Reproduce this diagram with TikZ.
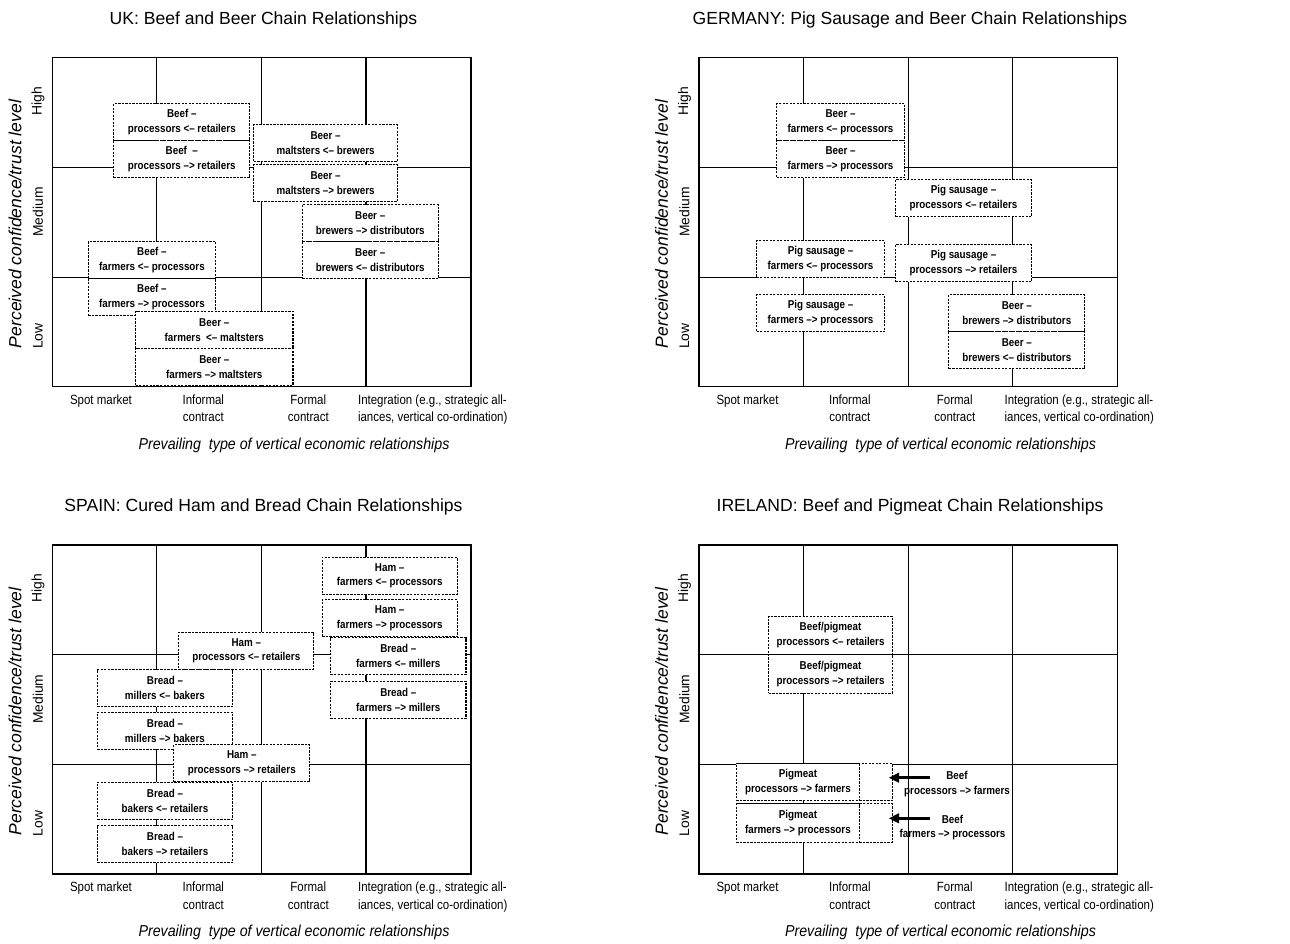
\documentclass[tikz,border=0pt]{standalone}
\usepackage{fontspec}
\setmainfont{Liberation Sans}
\newfontfamily\narrowfont{Liberation Sans}[FakeStretch=0.86]
\newfontfamily\axisfont{Liberation Sans}[FakeStretch=0.9]
\usetikzlibrary{arrows.meta}

\begin{document}
\begin{tikzpicture}[x=0.02cm, y=-0.02cm,
    panelframe/.style = {line width=0.8pt},
    gridline/.style = {line width=0.7pt},
    reltext/.style = {inner sep=0pt, align=center, font=\narrowfont\bfseries\fontsize{6.5}{8.5}\selectfont},
    relbox/.style = {reltext, draw, fill=white, line width=0.6pt, dash pattern=on 1.3pt off 0.7pt, minimum height=0.74cm, anchor=north west},
    ticklab/.style = {inner sep=0pt, anchor=north, align=center, font=\narrowfont\fontsize{7.6}{10.2}\selectfont},
    levellab/.style = {rotate=90, inner sep=0pt, font=\fontsize{7.9}{9}\selectfont},
    axtitle/.style = {inner sep=0pt, font=\axisfont\itshape\fontsize{9}{11}\selectfont},
    ytitle/.style = {inner sep=0pt, rotate=90, font=\itshape\fontsize{10}{12}\selectfont},
    paneltitle/.style = {inner sep=0pt, font=\fontsize{10}{12}\selectfont},
    fatarrow/.style = {-{Triangle[length=6pt,width=5.5pt]}, line width=1.9pt}]
    \useasboundingbox (0,0) rectangle (1290,943);

    % the four panels
    \foreach \dx/\dy/\nm/\ttl in {0/0/uk/{UK: Beef and Beer Chain Relationships},
        646.5/0/ger/{GERMANY: Pig Sausage and Beer Chain Relationships},
        0/487.3/sp/{SPAIN: Cured Ham and Bread Chain Relationships},
        646.5/487.3/ir/{IRELAND: Beef and Pigmeat Chain Relationships}}
    {
    \begin{scope}[shift={(\dx,\dy)}]
        \node[paneltitle] (\nm-title) at (263.5,20) {\ttl};
        \draw[panelframe] (52.3,57.7) rectangle (471,386.7);
        \foreach \cx in {156.7,261.7,366}
            \draw[gridline] (\cx,57.7) -- (\cx,386.7);
        \foreach \ry in {167.3,277.3}
            \draw[gridline] (52.3,\ry) -- (471,\ry);
        \node[ytitle] (\nm-ytitle) at (15,224) {Perceived confidence/trust level};
        \node[levellab] (\nm-high) at (38,101) {High};
        \node[levellab] (\nm-medium) at (38,212) {Medium};
        \node[levellab] (\nm-low) at (38,336) {Low};
        \node[ticklab] (\nm-spot) at (101,394) {Spot market};
        \node[ticklab] (\nm-informal) at (203.3,394) {Informal\\contract};
        \node[ticklab] (\nm-formal) at (308.3,394) {Formal\\contract};
        \node[ticklab, anchor=north west, align=left] (\nm-integ) at (357.7,394) {Integration (e.g., strategic all-\\iances, vertical co-ordination)};
        \node[axtitle] (\nm-xtitle) at (294,445) {Prevailing\ \ type of vertical economic relationships};
    \end{scope}
    }

    % UK
    \node[relbox, minimum width=2.72cm] (ukbeefA) at (113.3,103.3) {Beef –\\processors <– retailers};
    \node[relbox, minimum width=2.72cm] (ukbeefB) at (113.3,140.3) {Beef\ \ –\\processors –> retailers};
    \node[relbox, minimum width=2.87cm] (ukbeerA) at (253.3,124) {Beer –\\maltsters <– brewers};
    \node[relbox, minimum width=2.87cm] (ukbeerB) at (253.3,164.3) {Beer –\\maltsters –> brewers};
    \node[relbox, minimum width=2.72cm] (ukbeerC) at (301.7,204.3) {Beer –\\brewers –> distributors};
    \node[relbox, minimum width=2.72cm] (ukbeerD) at (301.7,241.3) {Beer –\\brewers <– distributors};
    \node[relbox, minimum width=2.55cm] (ukbeefC) at (87.7,241) {Beef –\\farmers <– processors};
    \node[relbox, minimum width=2.55cm] (ukbeefD) at (87.7,278.3) {Beef –\\farmers –> processors};
    \node[relbox, minimum width=3.15cm] (ukbeerE) at (135,310.7) {Beer –\\farmers\ \ <– maltsters};
    \node[relbox, minimum width=3.15cm] (ukbeerF) at (135,347.7) {Beer –\\farmers –> maltsters};

    % Germany
    \node[relbox, minimum width=2.56cm] (gerbeerA) at (776,103.3) {Beer –\\farmers <– processors};
    \node[relbox, minimum width=2.56cm] (gerbeerB) at (776,140.3) {Beer –\\farmers –> processors};
    \node[relbox, minimum width=2.72cm] (gersausA) at (895,179.3) {Pig sausage –\\processors <– retailers};
    \node[relbox, minimum width=2.72cm] (gersausB) at (895,244.3) {Pig sausage –\\processors –> retailers};
    \node[relbox, minimum width=2.56cm] (gersausC) at (756,240) {Pig sausage –\\farmers <– processors};
    \node[relbox, minimum width=2.56cm] (gersausD) at (756,294.3) {Pig sausage –\\farmers –> processors};
    \node[relbox, minimum width=2.72cm] (gerbeerC) at (948.3,294.3) {Beer –\\brewers –> distributors};
    \node[relbox, minimum width=2.72cm] (gerbeerD) at (948.3,331.3) {Beer –\\brewers <– distributors};

    % Spain
    \node[relbox, minimum width=2.7cm] (sphamA) at (321.7,556.7) {Ham –\\farmers <– processors};
    \node[relbox, minimum width=2.7cm] (sphamB) at (321.7,599.3) {Ham –\\farmers –> processors};
    \node[relbox, minimum width=2.7cm] (sphamC) at (178.3,631.7) {Ham –\\processors <– retailers};
    \node[relbox, minimum width=2.71cm] (spbreadA) at (330,637.3) {Bread –\\farmers <– millers};
    \node[relbox, minimum width=2.71cm] (spbreadB) at (330,680.7) {Bread –\\farmers –> millers};
    \node[relbox, minimum width=2.71cm] (spbreadC) at (96.7,669.3) {Bread –\\millers <– bakers};
    \node[relbox, minimum width=2.71cm] (spbreadD) at (96.7,711.7) {Bread –\\millers –> bakers};
    \node[relbox, minimum width=2.72cm] (sphamD) at (173.3,744.3) {Ham –\\processors –> retailers};
    \node[relbox, minimum width=2.71cm] (spbreadE) at (96.7,781.7) {Bread –\\bakers <– retailers};
    \node[relbox, minimum width=2.71cm] (spbreadF) at (96.7,825) {Bread –\\bakers –> retailers};

    % Ireland
    \node[relbox, minimum width=2.47cm, minimum height=0.77cm] (irbpA) at (768.3,615.7) {Beef/pigmeat\\processors <– retailers};
    \node[relbox, minimum width=2.47cm, minimum height=0.77cm] (irbpB) at (768.3,654) {Beef/pigmeat\\processors –> retailers};
    \node[relbox, minimum width=3.12cm] (irbeefA) at (735.7,763.3) {};
    \node[relbox, minimum width=2.47cm] (irpigA) at (735.7,763.3) {Pigmeat\\processors –> farmers};
    \node[relbox, minimum width=3.12cm, minimum height=0.77cm] (irbeefB) at (735.7,803.3) {};
    \node[relbox, minimum width=2.47cm, minimum height=0.77cm] (irpigB) at (735.7,803.3) {Pigmeat\\farmers –> processors};
    \node[reltext] (irbeeflabA) at (957,784.5) {Beef\\processors –> farmers};
    \node[reltext] (irbeeflabB) at (952.5,827.5) {Beef\\farmers –> processors};
    \coordinate (irtailA) at (930,777.7);
    \coordinate (irtailB) at (930,818.3);
    \draw[fatarrow, shorten >=-2.3pt] (irtailA) -- (irbeefA.east |- irtailA);
    \draw[fatarrow, shorten >=-2.3pt] (irtailB) -- (irbeefB.east |- irtailB);
\end{tikzpicture}
\end{document}
